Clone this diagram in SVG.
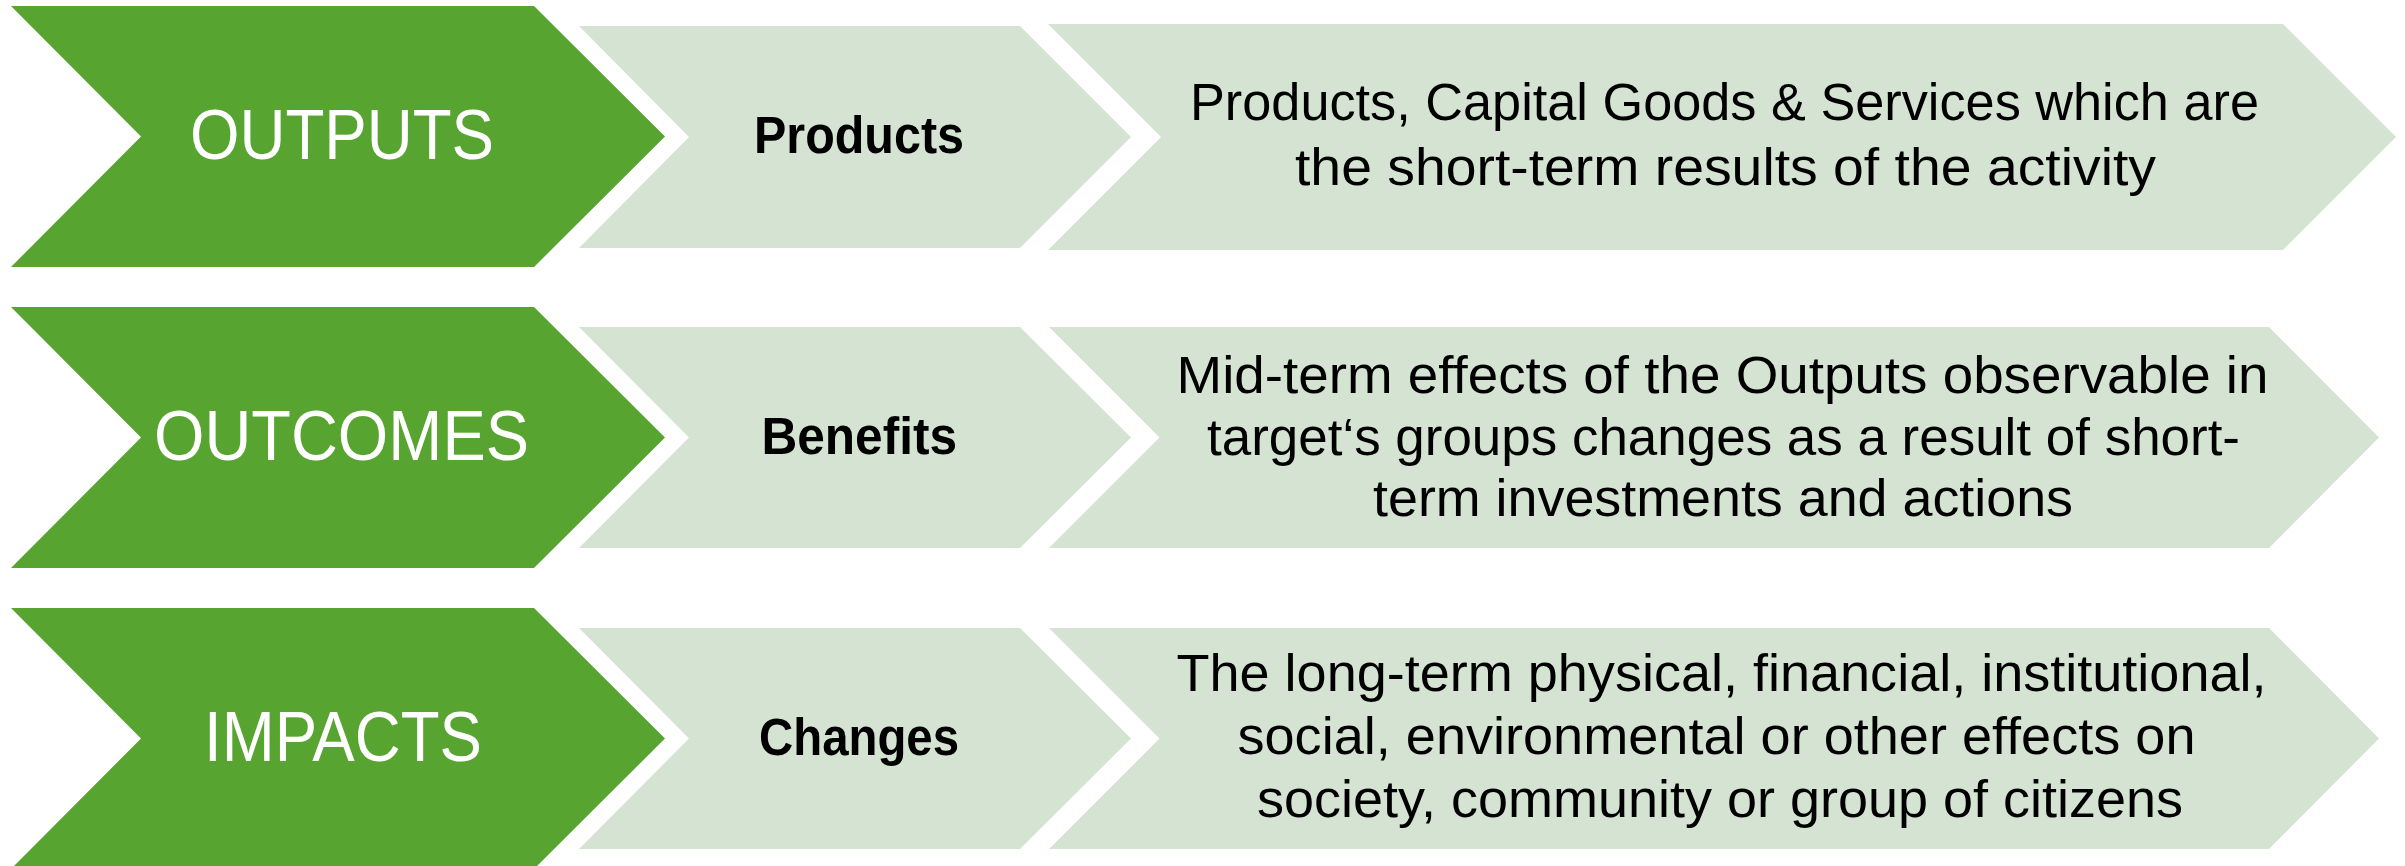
<svg xmlns="http://www.w3.org/2000/svg" width="2405" height="866" viewBox="0 0 2405 866">
<style>
.g{fill:#57A431}
.l{fill:#D5E3D3}
.h{font-family:"Liberation Sans",Arial,sans-serif;font-size:71px;fill:#FFFFFF}
.m{font-family:"Liberation Sans",Arial,sans-serif;font-size:51px;font-weight:bold;fill:#000000}
.t{font-family:"Liberation Sans",Arial,sans-serif;font-size:51px;fill:#000000}
</style>
<rect width="2405" height="866" fill="#FFFFFF"/>
<g id="row-outputs">
  <g id="outputs">
    <polygon class="g" points="11,6 534,6 665,136.5 534,267 11,267 141,136.5"/>
    <text class="h" x="190" y="159" textLength="304" lengthAdjust="spacingAndGlyphs">OUTPUTS</text>
  </g>
  <g id="products">
    <polygon class="l" points="579,26 1020,26 1131,137 1020,248 579,248 689,137"/>
    <text class="m" x="754" y="153" textLength="210" lengthAdjust="spacingAndGlyphs">Products</text>
  </g>
  <g id="outputs-desc">
    <polygon class="l" points="1048,24 2283,24 2396,137 2283,250 1048,250 1161,137"/>
    <text class="t" x="1190" y="120" textLength="1069" lengthAdjust="spacingAndGlyphs">Products, Capital Goods &amp; Services which are</text>
    <text class="t" x="1295" y="185" textLength="861" lengthAdjust="spacingAndGlyphs">the short-term results of the activity</text>
  </g>
</g>
<g id="row-outcomes">
  <g id="outcomes">
    <polygon class="g" points="11,307 534,307 665,437.5 534,568 11,568 141,437.5"/>
    <text class="h" x="154" y="460" textLength="375" lengthAdjust="spacingAndGlyphs">OUTCOMES</text>
  </g>
  <g id="benefits">
    <polygon class="l" points="579,327 1020,327 1131,437.5 1020,548 579,548 689,437.5"/>
    <text class="m" x="761.5" y="454" textLength="195.5" lengthAdjust="spacingAndGlyphs">Benefits</text>
  </g>
  <g id="outcomes-desc">
    <polygon class="l" points="1049,327 2269,327 2379,437.5 2269,548 1049,548 1159.5,437.5"/>
    <text class="t" x="1176.5" y="393" textLength="1092" lengthAdjust="spacingAndGlyphs">Mid-term effects of the Outputs observable in</text>
    <text class="t" x="1207" y="455" textLength="1033" lengthAdjust="spacingAndGlyphs">target‘s groups changes as a result of short-</text>
    <text class="t" x="1373" y="516" textLength="700" lengthAdjust="spacingAndGlyphs">term investments and actions</text>
  </g>
</g>
<g id="row-impacts">
  <g id="impacts">
    <polygon class="g" points="11,608 534,608 665,738.5 534,869 11,869 141,738.5"/>
    <text class="h" x="204" y="761" textLength="278" lengthAdjust="spacingAndGlyphs">IMPACTS</text>
  </g>
  <g id="changes">
    <polygon class="l" points="579,628 1020,628 1131,738.5 1020,849 579,849 689,738.5"/>
    <text class="m" x="759" y="755" textLength="200" lengthAdjust="spacingAndGlyphs">Changes</text>
  </g>
  <g id="impacts-desc">
    <polygon class="l" points="1049,628 2269,628 2379,738.5 2269,849 1049,849 1159.5,738.5"/>
    <text class="t" x="1176.5" y="691" textLength="1090" lengthAdjust="spacingAndGlyphs">The long-term physical, financial, institutional,</text>
    <text class="t" x="1237.5" y="754" textLength="958" lengthAdjust="spacingAndGlyphs">social, environmental or other effects on</text>
    <text class="t" x="1257" y="817" textLength="926" lengthAdjust="spacingAndGlyphs">society, community or group of citizens</text>
  </g>
</g>
<g id="connectors"/>
</svg>
